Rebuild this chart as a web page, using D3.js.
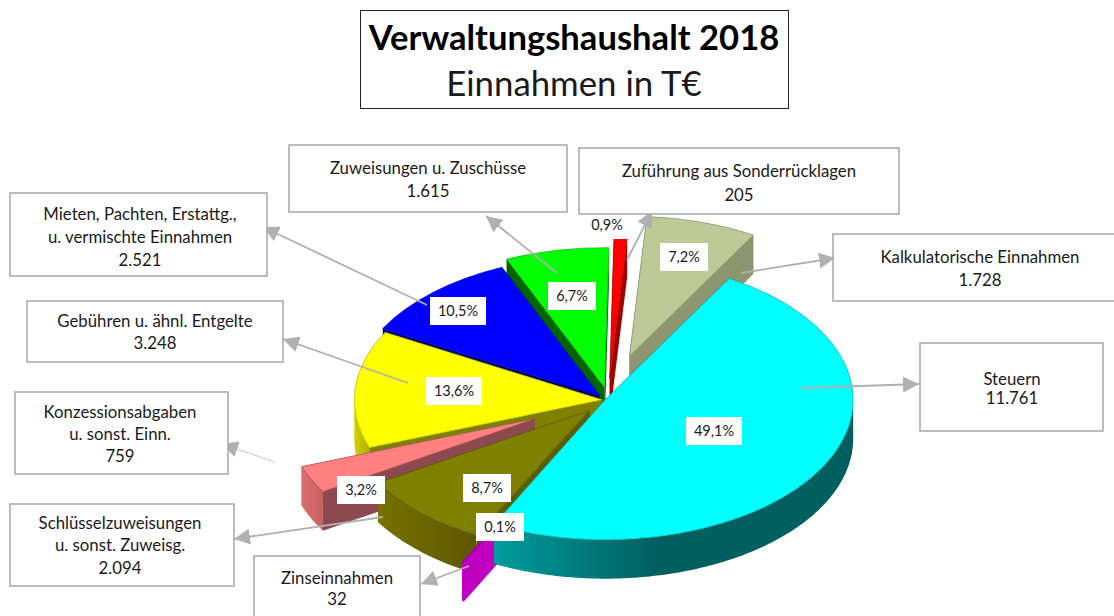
<!DOCTYPE html>
<html>
<head>
<meta charset="utf-8">
<script src="https://cdn.jsdelivr.net/npm/d3@7"></script>
<style>
  html, body { margin: 0; padding: 0; background: #fff; }
  svg { display: block; font-family: Lato, "Open Sans", sans-serif; }
</style>
</head>
<body>
<script>
// values in T EUR, clockwise from Steuern
var categories = ["Steuern", "Zinseinnahmen", "Schlüsselzuweisungen", "Konzessionsabgaben",
  "Gebühren", "Mieten", "Zuweisungen", "Zuführung", "Kalkulatorische"];
var values = [11761, 32, 2094, 759, 3248, 2521, 1615, 205, 1728];
var valueLabels = ["11.761", "32", "2.094", "759", "3.248", "2.521", "1.615", "205", "1.728"];
var percentLabels = ["49,1%", "0,1%", "8,7%", "3,2%", "13,6%", "10,5%", "6,7%", "0,9%", "7,2%"];
var boxLines = [
  ["Steuern"],
  ["Zinseinnahmen"],
  ["Schlüsselzuweisungen", "u. sonst. Zuweisg."],
  ["Konzessionsabgaben", "u. sonst. Einn."],
  ["Gebühren u. ähnl. Entgelte"],
  ["Mieten, Pachten, Erstattg.,", "u. vermischte  Einnahmen"],
  ["Zuweisungen u. Zuschüsse"],
  ["Zuführung aus Sonderrücklagen"],
  ["Kalkulatorische Einnahmen"]
];

// styling per slice
var topColors  = ["#00ffff", "#c000c0", "#808000", "#ff8080", "#ffff00", "#0000ff", "#00ff00", "#ff0000", "#bdc996"];
var cutColors  = ["#006666", "#c000c0", "#5e5e00", "#8c4a50", "#808000", "#000080", "#006400", "#a00000", "#8e9670"];
var wallLeft   = ["#009c9c", "#c000c0", "#787000", "#d87070", "#d0d000", "#000080", "#006400", "#a00000", "#8e9670"];
var wallRight  = ["#006060", "#c000c0", "#5c5800", "#c86060", "#b0b000", "#000080", "#006400", "#a00000", "#8e9670"];
var explode    = [0.01, 0.3, 0.09, 0.31, 0.015, 0.03, 0.09, 0.16, 0.35];
// small corrections, the original has some perspective in it
var nudge      = [[-1, -1], [5, 0], [1, 1], [0, 0], [2, 0], [1, -1], [5, 0], [4, 0], [0, 3]];

// text boxes and arrows, same order as categories
var boxes = [
  {x: 920, y: 343, w: 183, h: 88,  tx: 1012, ty: 379, gap: 19},
  {x: 254, y: 556, w: 166, h: 80,  tx: 337,  ty: 578, gap: 21},
  {x: 10,  y: 504, w: 224, h: 82,  tx: 120,  ty: 523, gap: 22.5},
  {x: 15,  y: 392, w: 213, h: 82,  tx: 120,  ty: 412, gap: 22},
  {x: 27,  y: 301, w: 256, h: 61,  tx: 155,  ty: 321, gap: 22},
  {x: 10,  y: 193, w: 257, h: 83,  tx: 140,  ty: 214, gap: 23},
  {x: 289, y: 145, w: 278, h: 67,  tx: 428,  ty: 168, gap: 23},
  {x: 579, y: 148, w: 320, h: 66,  tx: 739,  ty: 171, gap: 24},
  {x: 833, y: 234, w: 290, h: 67,  tx: 980,  ty: 257, gap: 23}
];
var arrows = [
  {x1: 802, y1: 388, x2: 919, y2: 384},
  {x1: 469, y1: 566, x2: 421, y2: 584},
  {x1: 383, y1: 517, x2: 234, y2: 539},
  {x1: 275, y1: 462, x2: 222, y2: 444, thin: true},
  {x1: 408, y1: 383, x2: 283, y2: 339},
  {x1: 427, y1: 305, x2: 263, y2: 227},
  {x1: 557, y1: 273, x2: 486, y2: 216},
  {x1: 627, y1: 260, x2: 652, y2: 211},
  {x1: 741, y1: 273, x2: 835, y2: 258}
];
var percentPos = [[714, 431], [500, 527], [487, 488], [361, 490], [454, 391], [458, 311], [572, 296], [607, 225], [684, 257]];

var width = 1114, height = 616;
var cx = 604, cy = 400, rx = 248, ry = 140, depth = 39;
var startDeg = 30;

var svg = d3.select("body").append("svg").attr("width", width).attr("height", height);
var defs = svg.append("defs");

defs.append("marker").attr("id", "head")
  .attr("markerUnits", "userSpaceOnUse")
  .attr("viewBox", "0 0 16 16")
  .attr("markerWidth", 16).attr("markerHeight", 16)
  .attr("refX", 16).attr("refY", 8)
  .attr("orient", "auto")
  .append("path").attr("d", "M0,0L16,8L0,16Z").attr("fill", "#b0b0b0");

var pie = d3.pie().sort(null)
  .startAngle(startDeg * Math.PI / 180)
  .endAngle((startDeg + 360) * Math.PI / 180);
var arcs = pie(values);
var arcGen = d3.arc().innerRadius(0).outerRadius(rx);
var line = d3.line();

arcs.forEach(function(d, i) {
  var mid = (d.startAngle + d.endAngle) / 2;
  d.tx = cx + explode[i] * rx * Math.sin(mid) + nudge[i][0];
  d.ty = cy - explode[i] * ry * Math.cos(mid) + nudge[i][1];
});

function rim(d, a) {
  return [d.tx + rx * Math.sin(a), d.ty - ry * Math.cos(a)];
}

// back to front
var paintOrder = [7, 8, 6, 5, 4, 3, 2, 1, 0];
var pieG = svg.append("g");

paintOrder.forEach(function(i) {
  var d = arcs[i];
  var g = pieG.append("g");

  // cut faces
  [d.startAngle, d.endAngle].forEach(function(a) {
    var p = rim(d, a);
    g.append("path")
      .attr("d", line([[d.tx, d.ty], p, [p[0], p[1] + depth], [d.tx, d.ty + depth]]) + "Z")
      .attr("fill", cutColors[i]);
  });

  // outer wall, only the front part is visible
  var a0 = Math.max(d.startAngle, Math.PI / 2), a1 = Math.min(d.endAngle, Math.PI * 1.5);
  if (a1 > a0) {
    var samples = d3.range(a0, a1, 0.01).concat([a1]);
    var upper = samples.map(function(a) { return rim(d, a); });
    var lower = upper.map(function(p) { return [p[0], p[1] + depth]; }).reverse();
    var xs = d3.extent(upper, function(p) { return p[0]; });
    var grad = defs.append("linearGradient").attr("id", "wall" + i)
      .attr("gradientUnits", "userSpaceOnUse")
      .attr("x1", xs[0]).attr("x2", xs[1]).attr("y1", 0).attr("y2", 0);
    grad.append("stop").attr("offset", 0).attr("stop-color", wallLeft[i]);
    grad.append("stop").attr("offset", i == 0 ? 0.45 : 1).attr("stop-color", wallRight[i]);
    g.append("path")
      .attr("d", line(upper.concat(lower)) + "Z")
      .attr("fill", "url(#wall" + i + ")");
  }

  // top
  g.append("path")
    .attr("d", arcGen(d))
    .attr("transform", "translate(" + d.tx + "," + d.ty + ") scale(1," + ry / rx + ")")
    .attr("fill", topColors[i])
    .attr("stroke", d3.color(topColors[i]).darker(1.2))
    .attr("stroke-width", 0.6)
    .attr("vector-effect", "non-scaling-stroke");
});

// arrows
svg.append("g").selectAll("line").data(arrows).join("line")
  .attr("x1", function(d) { return d.x1; }).attr("y1", function(d) { return d.y1; })
  .attr("x2", function(d) { return d.x2; }).attr("y2", function(d) { return d.y2; })
  .attr("stroke", "#b0b0b0")
  .attr("stroke-width", function(d) { return d.thin ? 0.7 : 1.8; })
  .attr("marker-end", "url(#head)");

// percent labels
var pctG = svg.append("g").selectAll("g").data(percentLabels).join("g")
  .attr("transform", function(d, i) { return "translate(" + percentPos[i] + ")"; });
pctG.append("rect")
  .attr("y", -14).attr("height", 28)
  .attr("x", function(d) { return d.length == 5 ? -28 : -24; })
  .attr("width", function(d) { return d.length == 5 ? 56 : 48; })
  .attr("fill", "#fff");
pctG.append("text")
  .attr("text-anchor", "middle").attr("dy", 5)
  .attr("font-size", 14.5).attr("fill", "#1a1a1a")
  .text(function(d) { return d; });

// text boxes
var boxG = svg.append("g").selectAll("g").data(boxes).join("g");
boxG.append("rect")
  .attr("x", function(d) { return d.x; }).attr("y", function(d) { return d.y; })
  .attr("width", function(d) { return d.w; }).attr("height", function(d) { return d.h; })
  .attr("fill", "#fff").attr("stroke", "#a6a6a6").attr("stroke-width", 1.5);
boxG.each(function(b, i) {
  var lines = boxLines[i].concat([valueLabels[i]]);
  d3.select(this).selectAll("text").data(lines).join("text")
    .attr("x", b.tx)
    .attr("y", function(t, j) { return b.ty + j * b.gap + 5.5; })
    .attr("text-anchor", "middle")
    .attr("font-size", 16.8).attr("fill", "#1a1a1a")
    .text(function(t) { return t; });
});

// title
var title = svg.append("g");
title.append("rect").attr("x", 360.5).attr("y", 10.5).attr("width", 428).attr("height", 98)
  .attr("fill", "#fff").attr("stroke", "#222").attr("stroke-width", 1);
title.append("text").attr("x", 574).attr("y", 50).attr("text-anchor", "middle")
  .attr("font-size", 34.6).attr("font-weight", 700).attr("fill", "#000")
  .text("Verwaltungshaushalt 2018");
title.append("text").attr("x", 574).attr("y", 96).attr("text-anchor", "middle")
  .attr("font-size", 34.8).attr("fill", "#1a1a1a")
  .text("Einnahmen in T€");
</script>
</body>
</html>
